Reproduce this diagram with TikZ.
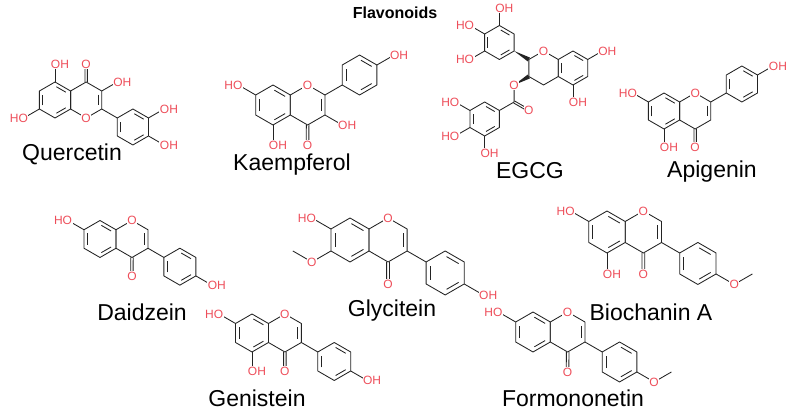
\documentclass[tikz,border=0pt]{standalone}
\usepackage{fontspec}
\setmainfont{Liberation Sans}
\usetikzlibrary{calc}
\definecolor{atomred}{RGB}{238,78,90}
\definecolor{bondc}{RGB}{35,35,35}
\tikzset{
  bond/.style={draw=bondc,line width=0.85pt,line join=round},
  atom/.style={text=atomred,fill=white,inner sep=0.5pt,font=\fontsize{12}{13}\selectfont},
  OHr/.style={atom,anchor=west,xshift=-5pt},
  HOl/.style={atom,anchor=east,xshift=5pt},
  molname/.style={font=\fontsize{23}{25}\selectfont,text=black}
}
\newcommand\mkring[2]{%
  \coordinate (#11) at ($(#2)+(90:1)$);
  \coordinate (#12) at ($(#2)+(30:1)$);
  \coordinate (#13) at ($(#2)+(-30:1)$);
  \coordinate (#14) at ($(#2)+(-90:1)$);
  \coordinate (#15) at ($(#2)+(-150:1)$);
  \coordinate (#16) at ($(#2)+(150:1)$);}
\newcommand\ringdraw[1]{\draw[bond] (#11)--(#12)--(#13)--(#14)--(#15)--(#16)--cycle;}
\newcommand\inn[3]{\draw[bond,shorten <=1.6pt,shorten >=1.6pt] ($(#1)!0.22!(#3)$)--($(#2)!0.22!(#3)$);}
\newcommand\ohr[2]{\draw[bond] (#1)--++(#2:1) node[OHr]{OH};}
\newcommand\hol[2]{\draw[bond] (#1)--++(#2:1) node[HOl]{HO};}
\newcommand\wedgebond[2]{\fill[bondc] (#1)--($(#2)!0.13!90:(#1)$)--($(#2)!0.13!-90:(#1)$)--cycle;}
% carbonyl: #1 atom, #2 angle
\newcommand\carbonyl[2]{%
  \coordinate (oo) at ($(#1)+(#2:1)$);
  \draw[bond] ($(#1)!0.065!90:(oo)$)--($(oo)!0.065!-90:(#1)$);
  \draw[bond] ($(#1)!0.065!-90:(oo)$)--($(oo)!0.065!90:(#1)$);
  \node[atom] at (oo) {O};}
\newcommand\arom[2]{\mkring{#1}{#2}\ringdraw{#1}\inn{#11}{#12}{#2}\inn{#13}{#14}{#2}\inn{#15}{#16}{#2}}
\newcommand\coreTop{%
  \coordinate (ac) at (0,0); \coordinate (cc) at (1.732,0);
  \arom{a}{ac}\mkring{c}{cc}\ringdraw{c}\inn{c2}{c3}{cc}
  \carbonyl{c4}{-90}
  \node[atom] at (c1) {O};}
\begin{document}
\begin{tikzpicture}[x=1pt,y=1pt]
\useasboundingbox (0,0) rectangle (790,411);
\fill[white] (0,0) rectangle (790,411);
\node[font=\fontsize{16}{18}\selectfont\bfseries] (title) at (395,398) {Flavonoids};

% ---------- Quercetin ----------
\begin{scope}[shift={(55,311)},scale=18]
  \coordinate (ac) at (0,0); \coordinate (cc) at (1.732,0);
  \arom{a}{ac}\mkring{c}{cc}\ringdraw{c}\inn{c2}{c3}{cc}
  \carbonyl{c1}{90}
  \coordinate (bc) at ($(c3)+(-30:2)$);
  \arom{b}{bc}\draw[bond] (c3)--(b6);
  \ohr{a1}{90}\hol{a5}{-150}\ohr{c2}{30}\ohr{b2}{30}\ohr{b3}{-30}
  \node[atom] at (c4) {O};
\end{scope}
\node[molname] (quercetin) at (72,257) {Quercetin};

% ---------- Kaempferol ----------
\begin{scope}[shift={(273,306)},scale=20]
  \coreTop
  \coordinate (bc) at ($(c2)+(30:2)$);
  \arom{b}{bc}\draw[bond] (c2)--(b5);
  \hol{a6}{150}\ohr{a4}{-90}\ohr{c3}{-30}\ohr{b2}{30}
\end{scope}
\node[molname] (kaempferol) at (292,246) {Kaempferol};

% ---------- EGCG ----------
\begin{scope}[shift={(573,343)},scale=17]
  \coordinate (ac) at (0,0); \coordinate (cc) at (-1.732,0);
  \arom{a}{ac}\mkring{c}{cc}\ringdraw{c}
  \coordinate (bc) at ($(c6)+(150:2)$);
  \arom{b}{bc}
  \wedgebond{b3}{c6}
  \coordinate (oe) at ($(c5)+(-150:1)$);
  \wedgebond{oe}{c5}
  \coordinate (cx) at ($(oe)+(-90:1)$);
  \draw[bond] (oe)--(cx);
  \carbonyl{cx}{-30}
  \coordinate (gc) at ($(cx)+(-150:2)$);
  \arom{g}{gc}\draw[bond] (cx)--(g2);
  \node[atom] at (oe) {O};
  \node[atom] at (c1) {O};
  \ohr{a2}{30}\ohr{a4}{-90}
  \ohr{b1}{90}\hol{b6}{150}\hol{b5}{-150}
  \hol{g6}{150}\hol{g5}{-150}\ohr{g4}{-90}
\end{scope}
\node[molname] (egcg) at (530,240) {EGCG};

% ---------- Apigenin ----------
\begin{scope}[shift={(664,300)},scale=18]
  \coreTop
  \coordinate (bc) at ($(c2)+(30:2)$);
  \arom{b}{bc}\draw[bond] (c2)--(b5);
  \hol{a6}{150}\ohr{a4}{-90}\ohr{b2}{30}
\end{scope}
\node[molname] (apigenin) at (712,239) {Apigenin};

% ---------- Daidzein ----------
\begin{scope}[shift={(100,172)},scale=18.5]
  \coreTop
  \coordinate (bc) at ($(c3)+(-30:2)$);
  \arom{b}{bc}\draw[bond] (c3)--(b6);
  \hol{a6}{150}\ohr{b3}{-30}
\end{scope}
\node[molname] (daidzein) at (142,99) {Daidzein};

% ---------- Glycitein ----------
\begin{scope}[shift={(350,171)},scale=22]
  \coreTop
  \coordinate (bc) at ($(c3)+(-30:2)$);
  \arom{b}{bc}\draw[bond] (c3)--(b6);
  \hol{a6}{150}\ohr{b3}{-30}
  \coordinate (om) at ($(a5)+(-150:1)$);
  \draw[bond] (a5)--(om)--++(150:1);
  \node[atom] at (om) {O};
\end{scope}
\node[molname] (glycitein) at (392,100) {Glycitein};

% ---------- Biochanin A ----------
\begin{scope}[shift={(607,179)},scale=21]
  \coreTop
  \coordinate (bc) at ($(c3)+(-30:2)$);
  \arom{b}{bc}\draw[bond] (c3)--(b6);
  \hol{a6}{150}\ohr{a4}{-90}
  \coordinate (om) at ($(b3)+(-30:1)$);
  \draw[bond] (b3)--(om)--++(30:1);
  \node[atom] at (om) {O};
\end{scope}
\node[molname] (biochanin) at (651,99) {Biochanin A};

% ---------- Genistein ----------
\begin{scope}[shift={(252,78)},scale=19]
  \coreTop
  \coordinate (bc) at ($(c3)+(-30:2)$);
  \arom{b}{bc}\draw[bond] (c3)--(b6);
  \hol{a6}{150}\ohr{a4}{-90}\ohr{b3}{-30}
\end{scope}
\node[molname] (genistein) at (257,13) {Genistein};

% ---------- Formononetin ----------
\begin{scope}[shift={(533,79)},scale=20]
  \coreTop
  \coordinate (bc) at ($(c3)+(-30:2)$);
  \arom{b}{bc}\draw[bond] (c3)--(b6);
  \hol{a6}{150}
  \coordinate (om) at ($(b3)+(-30:1)$);
  \draw[bond] (b3)--(om)--++(30:1);
  \node[atom] at (om) {O};
\end{scope}
\node[molname] (formononetin) at (573,13) {Formononetin};
\end{tikzpicture}
\end{document}
